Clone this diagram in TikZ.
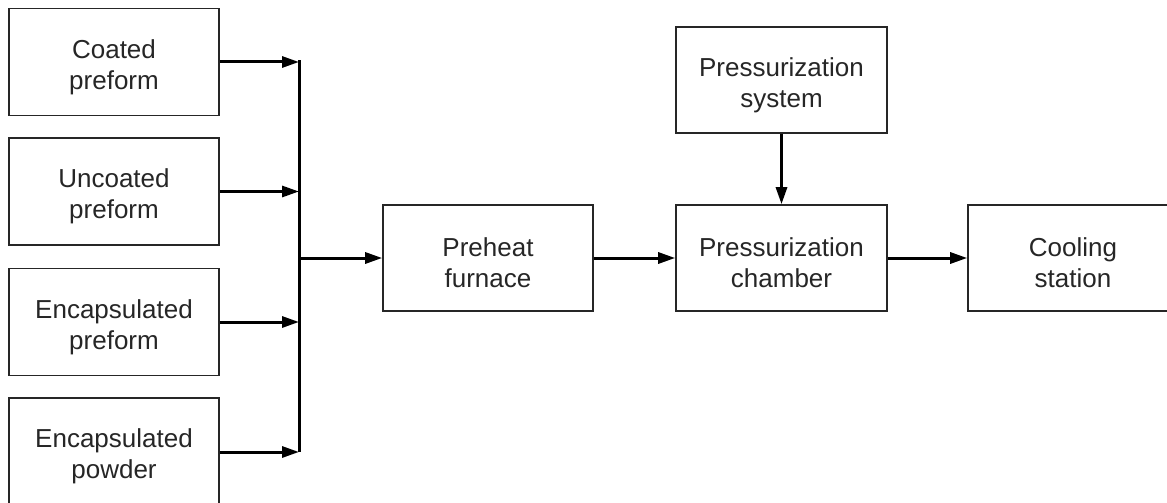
\documentclass[tikz,border=0pt]{standalone}
\usepackage{fontspec}
\setmainfont{Liberation Sans}
\usetikzlibrary{arrows.meta}
\begin{document}
\begin{tikzpicture}[x=1pt,y=-1pt,
  box/.style={draw=black!85, line width=1.6pt, minimum width=210pt, minimum height=107pt,
    inner sep=0pt},
  txt/.style={inner sep=0pt, align=center, font=\fontsize{26}{31}\selectfont, text=black!85},
  arr/.style={line width=3pt, -{Triangle[length=17pt,width=11pt]}},
  bus/.style={line width=3pt}]
\clip (0,0) rectangle (1167,503);
\node[box] (b1) at (114,62) {};
\node[box] (b2) at (114,191.5) {};
\node[box] (b3) at (114,322) {};
\node[box, minimum height=108pt] (b4) at (114,452) {};
\node[box, minimum height=106pt] (pre) at (488,258) {};
\node[box, minimum height=106pt, minimum width=211pt] (ch) at (781.5,258) {};
\node[box, minimum height=106pt, minimum width=211pt] (sys) at (781.5,80) {};
\node[box, minimum height=106pt] (cool) at (1073,258) {};
\node[txt] (b1t) at ([yshift=-5pt]b1.center) {Coated\\preform};
\node[txt] (b2t) at ([yshift=-5pt]b2.center) {Uncoated\\preform};
\node[txt] (b3t) at ([yshift=-5pt]b3.center) {Encapsulated\\preform};
\node[txt] (b4t) at ([yshift=-4pt]b4.center) {Encapsulated\\powder};
\node[txt] (pret) at ([yshift=-5pt]pre.center) {Preheat\\furnace};
\node[txt] (cht) at ([yshift=-5pt]ch.center) {Pressurization\\chamber};
\node[txt] (syst) at ([yshift=-5pt]sys.center) {Pressurization\\system};
\node[txt] (coolt) at ([yshift=-5pt]cool.center) {Cooling\\station};
\coordinate (bustop) at (299,60.5);
\coordinate (busbot) at (299,451.5);
\draw[bus] (bustop) -- (busbot);
\foreach \b in {b1,b2,b3,b4} \draw[arr] (\b.east) -- (\b.east -| bustop);
\draw[arr] (pre.west -| bustop) -- (pre.west);
\draw[arr] (pre) -- (ch);
\draw[arr] (ch) -- (cool);
\draw[arr] (sys) -- (ch);
\end{tikzpicture}
\end{document}
